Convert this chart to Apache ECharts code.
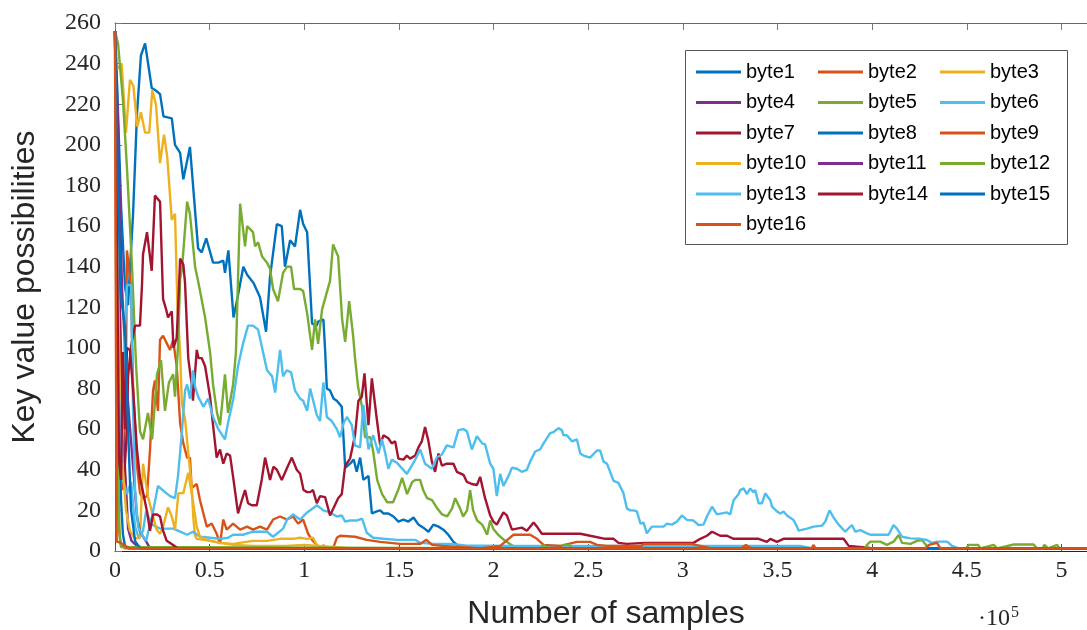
<!DOCTYPE html>
<html>
<head>
<meta charset="utf-8">
<script src="https://cdn.jsdelivr.net/npm/echarts@6/dist/echarts.min.js"></script>
<style>
html,body{margin:0;padding:0;background:#fff;}
#chart{width:1087px;height:630px;}
</style>
</head>
<body>
<div id="chart"></div>
<script>
// Data: [samples in thousands, key value possibilities]
const seriesNames = ['byte1','byte2','byte3','byte4','byte5','byte6','byte7','byte8','byte9','byte10','byte11','byte12','byte13','byte14','byte15','byte16'];
const seriesColors = ['#0072BD','#D95319','#EDB120','#7E2F8E','#77AC30','#4DBEEE','#A2142F','#0072BD','#D95319','#EDB120','#7E2F8E','#77AC30','#4DBEEE','#A2142F','#0072BD','#D95319'];
const xTickLabels = ['0','0.5','1','1.5','2','2.5','3','3.5','4','4.5','5'];

const byte1 = [[0,256],[1.1,230],[3.2,170],[5.3,130],[6.9,121],[7.9,139],[9.5,165],[11.6,215],[13.7,244],[15.9,250],[19.4,228],[21.2,227],[23.8,225],[25.6,214],[30.0,213],[31.7,200],[34.4,196],[36.1,183],[39.6,199],[43.9,149],[45.8,147],[48.2,154],[51.8,142],[54.6,142],[57.2,143],[58.1,137],[59.9,148],[62.6,115],[65.0,126],[67.8,140],[69.8,136],[73.2,132],[76.6,125],[79.8,108],[81.9,135],[85.5,161],[88.1,160],[89.8,140],[92.5,153],[95.1,150],[97.8,168],[99.4,161],[101.5,157],[104.1,112],[106.6,111],[107.3,113],[110.1,114],[111.0,99],[111.9,80],[113.6,79],[115.5,75],[117.2,74],[119.8,71],[121.6,41],[124.2,43],[126.1,45],[127.7,39],[129.5,46],[131.2,35],[133.9,37],[135.7,18.5],[138.3,19.5],[140.1,20],[141.8,18.5],[144.4,18.5],[147.1,17],[149.7,14.5],[152.4,15.5],[155.0,14.5],[157.7,16.5],[160.3,13],[162.9,11.5],[165.6,9.5],[168.2,13],[170.9,12],[173.5,10.5],[176.1,8],[178.8,4.5],[181.4,2.5],[184,1.3],[520,1.3]];
const byte2 = [[0,256],[1.1,180],[2.6,60],[4.2,30],[5.8,90],[6.3,148],[8.5,130],[9.5,82],[11.6,42],[13.2,28.5],[14.8,26],[16.9,27],[18.5,50],[20.1,79],[21.1,84],[22.7,69],[23.8,104],[25.4,106],[27.5,102],[29.1,99],[30.7,104],[32.6,91],[34.4,63],[36.1,53],[38.1,46],[39.6,46],[40.5,31],[43.2,33],[44.9,25],[46.7,18.5],[48.5,12],[51.1,13.5],[53.7,8.5],[55.5,3.5],[57.2,15.5],[59.0,10.5],[62.4,13.5],[66.1,10.5],[69.8,12],[72.9,10.5],[76.6,12],[80.3,10.5],[83.5,15.5],[87.2,17],[90.9,15.5],[94.1,17],[96.7,13.5],[99.4,15.5],[102.0,8.5],[104.1,5.5],[108.3,1.3],[520,1.3]];
const byte3 = [[0,256],[0.9,237],[3.5,240],[5.8,206],[7.9,232],[9.7,229],[11.8,209],[13.7,216],[15.9,206],[18.1,206],[19.7,227],[21.7,219.5],[23.8,191],[25.9,205],[27.6,194],[30.0,163],[31.7,166],[33.0,120],[34.4,98],[35.3,73],[37.0,65],[38.7,48.5],[40.5,32],[41.4,16],[42.3,7.5],[43.2,6],[50.2,5],[55.5,4],[62.4,3.5],[72.9,5],[80.3,5],[87.2,6],[94.1,6],[97.8,6.5],[101.5,6],[104.6,6.5],[106.6,3],[108.3,1.3],[520,1.3]];
const byte4 = [[0,256],[1.1,200],[2.6,120],[4.2,59],[5.8,32],[6.9,11],[8.7,5],[11.6,2.5],[15.9,1.3],[520,1.3]];
const byte5 = [[0,256],[1.6,250],[4.2,222],[6.3,189],[9.0,140],[11.1,92],[13.2,59],[14.8,55],[17.4,68],[19.6,55],[22.2,87],[24.3,94],[26.4,69],[28.5,83],[30.7,87],[31.7,76],[33.3,101],[34.4,134],[35.4,139],[38.1,172],[39.6,166],[42.3,140],[43.9,133],[47.6,115],[50.2,98],[51.8,82],[53.9,68],[55.5,62],[58.1,87],[59.7,68],[62.4,82],[63.9,98],[66.1,171],[68.7,150],[69.8,160],[72.9,157],[74.0,150],[75.6,152],[77.7,145],[80.3,142],[81.9,139],[83.5,129],[86.1,123],[88.8,137],[90.9,140],[93.0,140],[94.6,129],[97.8,129],[99.4,128],[101.5,117],[104.1,99],[105.7,114],[107.3,102],[109.4,119],[113.6,133],[115.2,151],[117.9,145],[120.0,114],[121.6,103],[123.7,123],[125.8,106],[126.8,95],[128.4,81],[130.5,71],[132.1,56],[134.8,56],[136.4,49],[138.5,35],[141.1,28],[143.8,24],[146.9,24],[149.6,30],[151.7,36],[154.3,28],[157.0,34],[158.6,35],[161.2,35],[162.8,30],[164.9,26],[167.5,25],[170.2,21],[172.8,18],[175.5,17],[178.1,21],[179.7,26],[182.3,21],[183.9,17],[186.0,20],[187.6,30],[189.2,20],[191.3,15],[194.0,13],[196.6,8],[198.2,15],[199.8,11],[202.4,8],[206.1,5],[210.3,2.5],[214,1.3],[520,1.3]];
const byte6 = [[0,256],[1.1,160],[2.6,60],[4.2,35],[6.3,28],[8.5,34],[10.6,12],[12.7,6],[14.8,10],[16.4,19.5],[19.6,13],[23.8,11],[27.5,11],[30.7,11],[34.4,9.5],[38.1,8],[41.2,9.5],[44.9,7],[50.2,6.5],[55.5,6],[59.7,6.5],[62.4,8],[67.6,8],[72.9,9.5],[80.3,9.5],[83.5,7],[88.8,11],[90.9,15.5],[94.1,18],[97.8,15.5],[101.5,19],[104.6,21],[106.6,22.5],[110.1,20],[113.6,19],[117.2,17],[119.8,17.5],[121.6,14.5],[124.2,15],[127.7,15],[130.5,16],[133.0,9],[136.4,6.5],[141.8,6],[148.9,5.5],[158.6,5.5],[161.2,4],[168.2,3.5],[177.0,3.5],[182.3,3],[185.9,2.6],[196.4,2.6],[210,2.5],[362,2.5],[367.3,1.5],[520,1.3]];
const byte7 = [[0,256],[1.6,160],[3.2,60],[4.8,35],[6.3,60],[6.9,86],[8.5,101],[10.6,111],[13.2,111],[14.3,132],[14.8,146],[16.9,157],[19.4,138],[21.1,175],[23.8,172],[25.4,124],[27.0,119],[28.0,115],[30.0,118],[30.9,100],[32.6,105],[33.8,130],[34.4,144],[36.1,141],[37.0,132],[38.7,95],[40.5,82],[41.2,74],[43.2,99],[44.1,95],[45.8,95],[47.6,91],[50.2,76],[51.8,62],[53.7,46],[55.5,50],[57.2,43],[59.0,48],[60.8,47],[62.4,36.5],[65.0,18.5],[67.0,25],[68.7,30],[70.3,23.5],[72.2,22.5],[74.9,22.5],[77.5,35],[79.3,46],[81.9,35],[83.7,41.5],[85.5,40],[88.1,35],[90.7,40.5],[93.4,46],[96.0,40],[97.8,38],[99.6,30],[101.5,29],[103.1,29],[104.6,30],[106.6,23.5],[108.3,27],[111.0,26.5],[113.6,17.5],[115.4,21],[117.9,26],[119.8,28],[121.6,42],[124.2,45.5],[126.8,57],[128.6,74],[130.4,76],[131.8,87.5],[133.9,62],[135.7,85],[138.3,65],[140.1,52],[141.8,57],[144.4,55.5],[146.2,53],[148.0,54],[149.7,45.5],[152.4,45],[154.2,47],[155.9,45.5],[158.6,47],[160.3,51],[162.1,54],[163.8,61],[165.6,54],[167.4,44],[169.1,39],[170.9,48],[172.7,42],[175.3,43],[178.8,43],[180.6,39],[184.1,37.5],[185.9,34],[188.5,33],[191.2,32.5],[192.9,36.5],[195.5,26],[198.2,17.5],[199.9,14.5],[201.7,13],[205.2,19],[207.0,17.5],[209.7,10.5],[212.3,11],[214.9,11.5],[217.6,10],[221.1,14],[222.9,12],[225.5,8.5],[230,8.5],[245.8,8.5],[251,7.5],[259,6],[263.4,6],[266,4],[270.4,3.5],[280,4],[305.6,4],[309.2,6],[312.7,7.5],[315.4,9.5],[319.7,7.5],[323.3,7.5],[326.8,6],[340,6],[344.4,4.5],[346.2,6],[349.7,4.5],[353.2,6],[362,6],[384.9,6],[387.6,2.5],[399,1.5],[520,1.3]];
const byte8 = [[0,256],[1.1,150],[2.1,60],[3.2,25],[4.2,8],[5.3,2.5],[7.4,1.3],[520,1.3]];
const byte9 = [[0,256],[0.5,150],[1.1,40],[2.1,10],[3.2,3],[5.3,1.3],[109.4,1.3],[110.1,3],[111.0,1.3],[115.2,1.3],[117.2,6.5],[118.9,7.5],[126.8,7],[133.0,5.5],[140.1,4.5],[150.6,3.5],[161.2,3.5],[164.5,5.5],[167.5,3],[172.8,2.5],[182.3,2],[192.9,1.3],[203.5,2.5],[207.9,6],[210.5,8],[219.3,8],[222.9,6],[226.4,3],[235.4,2.5],[244.0,4.5],[251.0,4.5],[254.6,3],[259.9,2.5],[277.8,2.5],[279.4,3.5],[304.2,3.5],[309.2,2.5],[314.8,1.3],[330.7,1.3],[333.3,3],[336,1.3],[520,1.3]];
const byte10 = [[0,256],[1.1,160],[2.6,80],[4.2,40],[5.8,20],[7.9,10],[10.6,6],[13.2,7],[14.8,43],[17.4,27],[20.1,17],[22.0,10.5],[23.8,8.5],[25.4,12],[28.0,21.5],[30.0,17],[31.7,10.5],[33.5,28.5],[36.1,28.5],[38.7,38.5],[40.5,28.5],[43.2,12],[44.9,7],[48.5,5.5],[55.5,4],[62.4,3],[72.9,2.5],[90,2.5],[100,3],[115,2],[125,1.3],[520,1.3]];
const byte11 = [[0,256],[1.6,210],[3.7,130],[6.3,80],[9.5,42],[11.6,17],[13.2,9.5],[16.9,4],[18.5,1.3],[520,1.3]];
const byte12 = [[0,256],[0.5,200],[1.1,120],[1.6,60],[2.1,20],[2.6,5],[3.2,2],[4.2,1.3],[225.5,1.3],[226.4,3],[228,1.3],[236,1.3],[237,3],[240,3],[241.4,1.3],[396,1.3],[397.3,3],[399,4.6],[404.3,4.6],[407.8,3],[411.3,4.6],[414.0,7.9],[415.8,4],[420.2,3.5],[423.7,5],[426.3,5.4],[428.9,2.5],[430,1.3],[449.7,1.3],[451,3],[456,3],[457.2,1.3],[464.2,3],[466,1.3],[474.8,3.2],[485.3,3.2],[487,1.3],[490,1.3],[491,3],[493,1.3],[497.7,3],[499,1.3],[520,1.3]];
const byte13 = [[0,256],[1.1,170],[2.1,80],[3.2,40],[4.2,60],[5.3,110],[6.3,131],[8.5,131],[9.5,70],[10.6,30],[12.2,12],[14.3,8],[16.4,5],[19.6,17],[22.7,32],[26.4,29],[29.1,27],[31.7,26],[33.3,37],[35.3,58],[37.0,79],[38.1,82],[39.6,75],[41.2,89],[42.3,81],[43.9,76],[46.7,71],[49.2,75],[51.8,66],[54.6,60],[58.1,55],[59.7,63],[62.4,74.5],[65.0,91],[67.6,102],[70.3,111],[72.9,111],[75.6,109],[77.5,101],[80.3,89],[83.0,86],[84.6,78],[87.2,99],[88.8,86],[90.7,89],[93.0,88],[95.1,79],[97.8,75],[99.4,74],[101.5,69],[103.1,80],[106.6,67],[108.3,64],[110.1,83],[111.9,66],[114.5,64],[117.2,60],[118.9,56],[120.8,63],[122.5,66],[125.1,62],[126.8,52],[129.5,51],[131.2,72],[133.9,50],[136.4,57],[139.2,48],[141.0,55],[142.7,48.5],[144.4,40.5],[146.2,45],[148.9,43.5],[154.2,38],[156.8,42],[158.6,45],[161.2,50],[163.8,43],[167.4,40.5],[170.0,46],[172.7,47.5],[175.3,52],[178.8,51],[181.4,59.5],[184.1,60],[185.9,59],[188.5,50],[191.2,56.5],[194.0,53],[195.5,52.5],[198.2,43],[199.9,40.5],[201.7,27],[203.5,38],[205.2,32],[207.9,37],[209.7,41],[212.3,40.5],[214.9,39],[217.6,40],[219.3,44],[222.0,49],[224.6,50],[226.4,53],[229.9,58],[231.6,58.5],[234.3,60.5],[236.1,59.5],[236.9,57],[238.7,57],[241.4,54],[244.0,55],[245.8,48],[247.5,47],[249.3,46.5],[251.0,46],[254.6,49.5],[256.3,49.5],[258.1,44],[259.9,43],[263.4,34.5],[266.0,33.5],[268.6,28.5],[270.4,21],[272.2,20],[273.9,20],[275.7,19.5],[277.6,13.5],[279.2,14],[281.0,8.7],[283.6,12],[287.1,12],[289.8,12],[291.6,13.5],[294.2,13],[296.9,14.5],[299.5,17.5],[302.1,15.3],[305.6,15],[308.3,12.8],[310.9,13],[312.7,17],[315.4,21.8],[318.0,18],[323.3,19],[325.0,18],[326.8,25],[329.4,28],[330.3,30],[332.1,30.8],[333.8,28],[335.6,30.8],[337.3,29],[338.2,30],[340.0,23.5],[341.8,23.5],[343.5,28.4],[346.2,25],[347.1,21.8],[349.7,19.5],[351.5,18.5],[353.2,19.5],[355.0,17.5],[358.5,15.3],[360.3,12],[361.1,10],[365.6,11],[369.1,12],[373.5,12.5],[375.2,14.4],[377.5,20],[379.6,16.5],[382.3,13],[385.8,9.5],[389.3,12.8],[391.1,9.5],[393.7,10.3],[397.3,8.7],[399,8],[408.7,8],[411.3,12.8],[413.1,11],[415.8,7],[420.2,6.2],[425.4,6],[428.9,5.4],[431.6,4],[434.3,4.6],[439.6,4.6],[442.2,2.5],[445,1.5],[520,1.3]];
const byte14 = [[0,256],[1.1,150],[2.1,45],[3.2,35],[4.2,98],[5.3,60],[6.3,100],[7.9,99],[9.5,80],[11.6,50],[13.2,36],[14.8,29],[16.9,19.5],[18.5,10],[20.1,18],[22.2,18],[23.8,17],[25.4,10],[27.3,5],[30.7,3],[33.3,1.3],[520,1.3]];
const byte15 = [[0,256],[1.6,180],[3.2,125],[5.3,110],[6.9,60],[8.5,20],[10.6,5],[13.2,1.3],[520,1.3]];
const byte16 = [[0,256],[0.5,100],[0.9,4.6],[3.2,4],[5.3,2.5],[7.9,1.3],[368,1.3],[369.1,3],[370,1.3],[428,1.3],[430,3],[434.3,4],[436,1.3],[520,1.3]];

const allData = [byte1,byte2,byte3,byte4,byte5,byte6,byte7,byte8,byte9,byte10,byte11,byte12,byte13,byte14,byte15,byte16];

const chart = echarts.init(document.getElementById('chart'), null, {renderer: 'canvas'});

const serif = '"Liberation Serif", "DejaVu Serif", serif';
const sans = '"Liberation Sans", Arial, sans-serif';
const X_MAX = 513500;

const series = seriesNames.map((name, i) => ({
  name: name,
  type: 'line',
  xAxisIndex: 0,
  yAxisIndex: 0,
  showSymbol: false,
  symbol: 'none',
  animation: false,
  color: seriesColors[i],
  itemStyle: {color: seriesColors[i]},
  lineStyle: {color: seriesColors[i], width: 2.4},
  data: allData[i].map(p => [p[0] * 1000, p[1]])
}));

const legendCommon = {
  orient: 'vertical',
  top: 62,
  icon: 'rect',
  itemWidth: 45,
  itemHeight: 3,
  itemGap: 10.5,
  padding: 0,
  selectedMode: false,
  textStyle: {fontFamily: sans, fontSize: 20, color: '#000'}
};

const tickFormatter = v => (v % 50000 === 0 ? (xTickLabels[v / 50000] || '') : '');

const option = {
  animation: false,
  backgroundColor: '#fff',
  grid: {left: 115, top: 23, right: 0, height: 528, containLabel: false},
  xAxis: [{
    type: 'value', position: 'bottom', min: 0, max: X_MAX, interval: 50000,
    axisLine: {show: true, onZero: false, lineStyle: {color: '#262626', width: 1}},
    axisTick: {show: true, inside: true, length: 7, lineStyle: {color: '#555'}},
    splitLine: {show: false},
    axisLabel: {
      margin: 8, color: '#262626', fontFamily: serif, fontSize: 24,
      showMaxLabel: false,
      formatter: tickFormatter
    }
  }, {
    type: 'value', position: 'top', min: 0, max: X_MAX, interval: 50000,
    axisLine: {show: true, onZero: false, lineStyle: {color: '#666', width: 1}},
    axisTick: {show: true, inside: true, length: 7, lineStyle: {color: '#777'}},
    splitLine: {show: false},
    axisLabel: {show: false}
  }],
  yAxis: [{
    type: 'value', min: 0, max: 260, interval: 20,
    axisLine: {show: true, lineStyle: {color: '#555', width: 1}},
    axisTick: {show: true, inside: true, length: 7, lineStyle: {color: '#777'}},
    splitLine: {show: false},
    axisLabel: {margin: 14, color: '#262626', fontFamily: serif, fontSize: 24}
  }],
  legend: [
    Object.assign({}, legendCommon, {left: 696, data: ['byte1','byte4','byte7','byte10','byte13','byte16']}),
    Object.assign({}, legendCommon, {left: 818, data: ['byte2','byte5','byte8','byte11','byte14']}),
    Object.assign({}, legendCommon, {left: 940, data: ['byte3','byte6','byte9','byte12','byte15']})
  ],
  graphic: [
    {type: 'rect', z: 3, shape: {x: 685.5, y: 50.5, width: 382, height: 194},
     style: {fill: '#fff', stroke: '#555', lineWidth: 1}},
    {type: 'text', z: 10, x: 25, y: 287, rotation: Math.PI / 2,
     style: {text: 'Key value possibilities', font: '32px ' + sans, fill: '#262626', align: 'center', verticalAlign: 'middle'}},
    {type: 'text', z: 10, x: 606, y: 614,
     style: {text: 'Number of samples', font: '32px ' + sans, fill: '#262626', align: 'center', verticalAlign: 'middle'}},
    {type: 'text', z: 10, x: 978, y: 618.6,
     style: {text: '·10', font: '24px ' + serif, fill: '#262626', align: 'left', verticalAlign: 'middle'}},
    {type: 'text', z: 10, x: 1011, y: 612.6,
     style: {text: '5', font: '16px ' + serif, fill: '#262626', align: 'left', verticalAlign: 'middle'}}
  ],
  series: series
};

chart.setOption(option);
</script>
</body>
</html>
